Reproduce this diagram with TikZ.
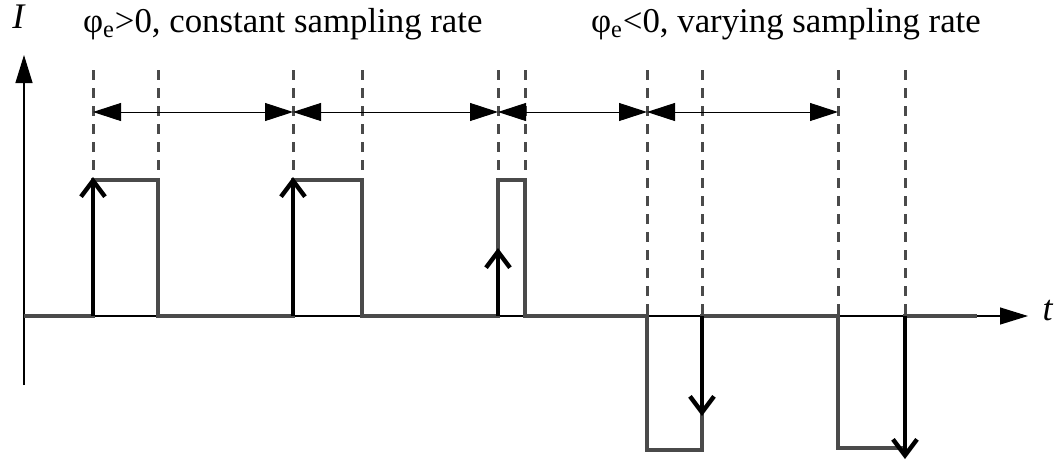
\documentclass[tikz,border=0pt]{standalone}
\usepackage{fontspec}
\setmainfont{Liberation Serif}
\usetikzlibrary{arrows.meta}
\definecolor{siggray}{HTML}{4A4A4A}
\tikzset{
  axisline/.style={line width=0.6pt,-{Triangle[length=14pt,width=8.5pt]}},
  guide/.style={siggray,line width=1.5pt,dash pattern=on 5pt off 4pt},
  signal/.style={siggray,line width=1.8pt},
  spike/.style={line width=2.2pt,-{Straight Barb[length=8pt,width=12pt]}},
  period/.style={line width=0.5pt,{Triangle[length=14pt,width=9pt]}-{Triangle[length=14pt,width=9pt]}},
  title/.style={anchor=base west,font=\fontsize{17.4}{20}\selectfont}
}

\begin{document}
\begin{tikzpicture}[x=0.5pt,y=-0.5pt]
  \useasboundingbox (0,0) rectangle (1057,462);
  % axes
  \coordinate (ibot) at (24,385);
  \coordinate (itop) at (24,55);
  \coordinate (o) at (24,316);
  \coordinate (tend) at (1028,316);
  \draw[axisline] (ibot) -- (itop);
  \draw[axisline] (o) -- (tend);
  \node[font=\fontsize{18}{20}\selectfont] (ilab) at (19,17) {\textit{I}};
  \node[font=\fontsize{18}{20}\selectfont] (tlab) at (1048,311) {\textit{t}};
  % titles
  \node[title] (postitle) at (76,32) {φ\textsubscript{e}>0, constant sampling rate};
  \node[title] (negtitle) at (584,32) {φ\textsubscript{e}<0, varying sampling rate};
  % dashed guides
  \foreach \x/\yb in {93/180,158/180,293/180,362/180,498/180,525/180,
                      647/316,702/316,838/316,905/316}
    \draw[guide] (\x,70) -- (\x,\yb);
  % periods
  \coordinate (m1) at (93,112);
  \coordinate (m2) at (293,112);
  \coordinate (m3) at (498,112);
  \coordinate (m4) at (647,112);
  \coordinate (m5) at (838,112);
  \foreach \a/\b in {m1/m2,m2/m3,m3/m4,m4/m5}
    \draw[period] (\a) -- (\b);
  % pulse train
  \draw[signal] (o) -- (93,316) -- (93,180) -- (158,180) -- (158,316)
    -- (293,316) -- (293,180) -- (362,180) -- (362,316)
    -- (498,316) -- (498,180) -- (525,180) -- (525,316)
    -- (647,316) -- (647,450) -- (702,450) -- (702,316)
    -- (838,316) -- (838,448) -- (905,448) -- (905,316) -- (977,316);
  % sampling spikes
  \draw[spike] (93,316) -- (93,177);
  \draw[spike] (293,316) -- (293,177);
  \draw[spike] (498,316) -- (498,248);
  \draw[spike] (702,316) -- (702,416);
  \draw[spike] (905,316) -- (905,459);
\end{tikzpicture}
\end{document}
